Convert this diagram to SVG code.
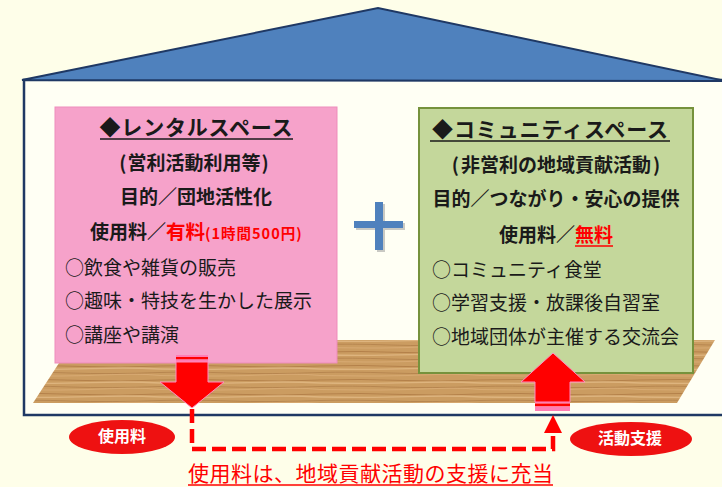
<svg xmlns="http://www.w3.org/2000/svg" width="722" height="487" viewBox="0 0 722 487">
<style>
.t{font-family:'Noto Sans CJK JP','Noto Sans',sans-serif;fill:#1a1a1a}
.b{font-weight:bold}
.r{fill:#FF0000}
.c{text-anchor:middle}
.w{fill:#FFFFFF;font-weight:bold}
.ul{stroke:#1a1a1a;stroke-width:1.5}
.ulr{stroke:#FF0000;stroke-width:1.5}
.arw{fill:#FF0000;stroke:#FF8CC0;stroke-width:1}
.pk{fill:#FF7DB4}
.rd{fill:#FF0000}
.dash{fill:none;stroke:#FF0000;stroke-width:4.5;stroke-dasharray:14 6}
</style>
<defs>
<pattern id="wood" patternUnits="userSpaceOnUse" width="160" height="14">
<rect width="160" height="14" fill="#CB9C61"/>
<path d="M0,2 Q40,0.8 80,2.4 T160,2" fill="none" stroke="#A5703B" stroke-width="0.9" opacity="0.7"/>
<path d="M0,5 Q50,6 90,4.6 T160,5" fill="none" stroke="#E2BA86" stroke-width="1.4" opacity="0.8"/>
<path d="M0,8.5 Q30,7.6 70,9 T160,8.5" fill="none" stroke="#9A6535" stroke-width="0.7" opacity="0.6"/>
<path d="M0,11.5 Q60,12.6 100,11 T160,11.5" fill="none" stroke="#DDB07A" stroke-width="1.1" opacity="0.7"/>
</pattern>
</defs>
<rect width="722" height="487" fill="#FEFEE9"/>
<g id="house">
<rect x="24" y="80" width="702" height="335" fill="#FFFFF4" stroke="#1F3864" stroke-width="2.5"/>
<polygon points="22,80 378,8 726,81" fill="#4F81BD" stroke="#1F3864" stroke-width="2"/>
<polygon points="33,403 677,403 715,340 74,340" fill="url(#wood)"/>
</g>
<g id="node-rental">
<rect x="55" y="107" width="282" height="256" fill="#F6A2CA" stroke="#EE8DBB" stroke-width="1"/>
<text class="t b c" x="196" y="135" font-size="21" textLength="193" lengthAdjust="spacing">◆レンタルスペース</text>
<line class="ul" x1="100" y1="139" x2="293" y2="139"/>
<text class="t b c" x="194" y="170" font-size="19">(<tspan dx="1">営利活動利用等</tspan><tspan dx="1">)</tspan></text>
<text class="t b c" x="196" y="204" font-size="19">目的／団地活性化</text>
<text class="t b" x="90" y="239" font-size="19">使用料／<tspan class="r" font-size="19.5">有料</tspan><tspan class="r" font-size="14.5" letter-spacing="1">(1時間500円)</tspan></text>
<text class="t" x="65" y="275" font-size="19">○飲食や雑貨の販売</text>
<text class="t" x="65" y="308" font-size="19">○趣味・特技を生かした展示</text>
<text class="t" x="65" y="342" font-size="19">○講座や講演</text>
</g>
<g id="node-community">
<rect x="419" y="108" width="274" height="265" fill="#C4D79B" stroke="#76923C" stroke-width="2"/>
<text class="t b c" x="550" y="137" font-size="21" textLength="236" lengthAdjust="spacing">◆コミュニティスペース</text>
<line class="ul" x1="430" y1="141" x2="670" y2="141"/>
<text class="t b c" x="556" y="172" font-size="19">(<tspan dx="2">非営利の地域貢献活動</tspan><tspan dx="2">)</tspan></text>
<text class="t b c" x="556" y="206" font-size="19">目的／つながり・安心の提供</text>
<text class="t b c" x="556" y="242" font-size="19">使用料／<tspan class="r">無料</tspan></text>
<line class="ulr" x1="575" y1="246" x2="613" y2="246"/>
<text class="t" x="432" y="277" font-size="19">○コミュニティ食堂</text>
<text class="t" x="432" y="310" font-size="19">○学習支援・放課後自習室</text>
<text class="t" x="432" y="344" font-size="19">○地域団体が主催する交流会</text>
</g>
<g id="plus">
<g fill="#8A8A8A" opacity="0.45" transform="translate(2,2)">
<rect x="354" y="221" width="49" height="7"/>
<rect x="375" y="202" width="8" height="48"/>
</g>
<g fill="#4F81BD">
<rect x="354" y="221" width="49" height="7"/>
<rect x="375" y="202" width="8" height="48"/>
</g>
</g>
<g id="connectors">
<path class="dash" d="M192,409 V449 H553 V432"/>
<polygon points="544,433 562,433 553,415" fill="#FF0000"/>
<g id="arrow-down">
<rect class="pk" x="176" y="355" width="32" height="2"/>
<rect class="rd" x="176" y="357" width="32" height="2.5"/>
<rect class="pk" x="176" y="359.5" width="32" height="2.5"/>
<polygon class="arw" points="176,362 208,362 208,382 224,382 192,408 160,382 176,382"/>
</g>
<g id="arrow-up">
<polygon class="arw" points="553,353 585,382 570,382 570,402 535,402 535,382 521,382"/>
<rect class="pk" x="535" y="402" width="35" height="1.5"/>
<rect class="rd" x="535" y="403.5" width="35" height="3"/>
<rect class="pk" x="535" y="406.5" width="35" height="4.5"/>
</g>
</g>
<g id="label-fee">
<ellipse cx="122" cy="437" rx="53" ry="17" fill="#EE1111"/>
<text class="t w c" x="122" y="442" font-size="16">使用料</text>
</g>
<g id="label-support">
<ellipse cx="631" cy="439" rx="61" ry="17" fill="#EE1111"/>
<text class="t w c" x="630" y="444" font-size="16">活動支援</text>
</g>
<g id="caption">
<text class="t r c" x="370.5" y="481" font-size="21" textLength="365" lengthAdjust="spacing">使用料は、地域貢献活動の支援に充当</text>
<line class="ulr" x1="188" y1="485" x2="553" y2="485"/>
</g>
</svg>
